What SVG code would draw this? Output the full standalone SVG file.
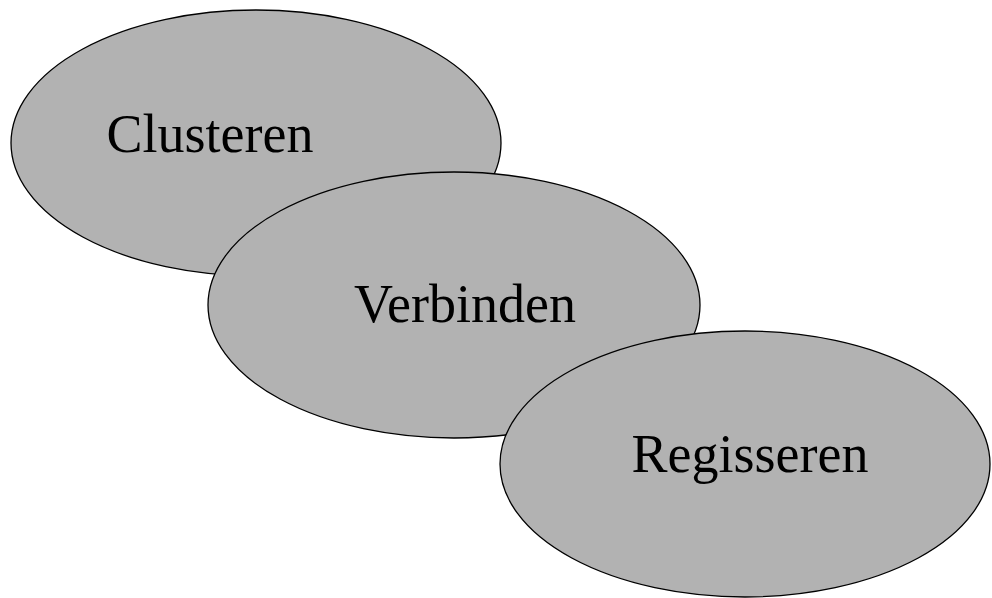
<svg xmlns="http://www.w3.org/2000/svg" width="992" height="598" viewBox="0 0 992 598">
<style>
.n ellipse{fill:#b2b2b2;stroke:#000;stroke-width:1.3}
.n text{font-family:"Liberation Serif","Times New Roman",serif;font-size:54px;fill:#000;text-anchor:middle}
</style>
<rect width="992" height="598" fill="#fff"/>
<g id="connectors"></g>
<g id="clusteren" class="n">
<ellipse cx="256" cy="143" rx="245" ry="133"/>
<text x="210" y="152">Clusteren</text>
</g>
<g id="verbinden" class="n">
<ellipse cx="454" cy="305" rx="246" ry="133"/>
<text x="465" y="322">Verbinden</text>
</g>
<g id="regisseren" class="n">
<ellipse cx="745" cy="464" rx="245" ry="133"/>
<text x="750" y="472">Regisseren</text>
</g>
</svg>
